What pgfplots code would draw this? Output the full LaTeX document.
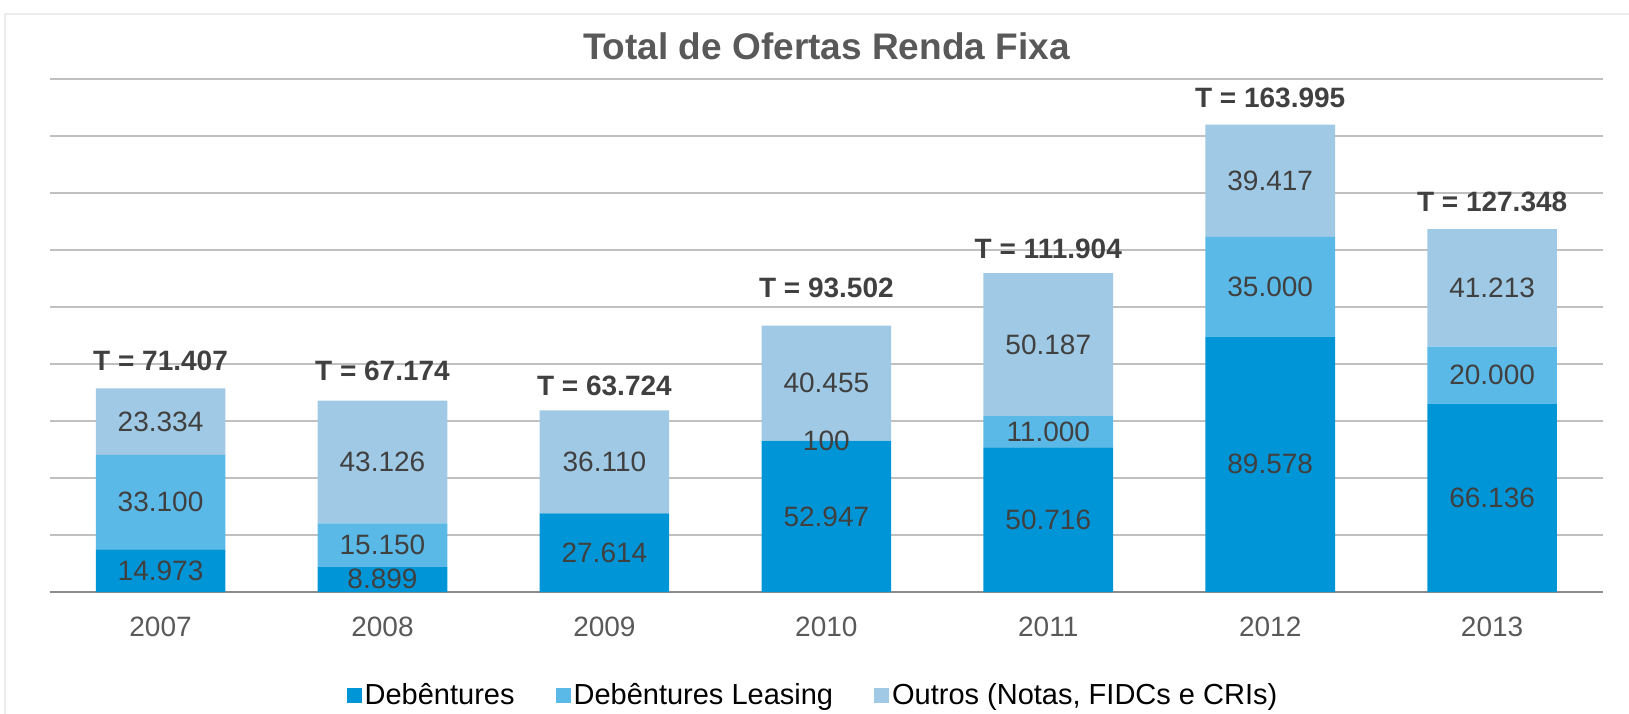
\documentclass[border=0pt]{standalone}
\usepackage{pgfplots}
\pgfplotsset{compat=1.18}
\usepackage{pgfplotstable}
\usepackage{fontspec}
\setmainfont{Liberation Sans}
\definecolor{cdeb}{HTML}{0095D6}
\definecolor{cleas}{HTML}{5BB9E7}
\definecolor{cout}{HTML}{9FC9E4}
\definecolor{gridc}{HTML}{C0C0C0}
\definecolor{axisc}{HTML}{8C8C8C}
\definecolor{labc}{HTML}{404040}
\definecolor{titc}{HTML}{595959}
\definecolor{framec}{HTML}{EDEDED}
\newcommand\lblfont{\fontsize{14}{16}\selectfont}
\newcommand\legfont{\fontsize{14.5}{16}\selectfont}
% values in thousands; labels as printed; off = baseline shift of the total label above the bar (pt)
\pgfplotstableread{
x deb leas out off dl ll ol tl
0 14.973 33.100 23.334 9.0 14.973 33.100 23.334 {T = 71.407}
1 8.899 15.150 43.126 10.0 8.899 15.150 43.126 {T = 67.174}
2 27.614 0 36.110 7.5 27.614 {} 36.110 {T = 63.724}
3 52.947 0.100 40.455 14.2 52.947 100 40.455 {T = 93.502}
4 50.716 11.000 50.187 7.5 50.716 11.000 50.187 {T = 111.904}
5 89.578 35.000 39.417 8.7 89.578 35.000 39.417 {T = 163.995}
6 66.136 20.000 41.213 8.8 66.136 20.000 41.213 {T = 127.348}
}\data
\pgfplotsset{
  commongeom/.style={at={(0pt,0pt)}, anchor=south west,
    scale only axis, width=776.75pt, height=256.5pt,
    xmin=-0.5, xmax=6.5, ymin=0, ymax=180, clip=false},
  lbl/.style={draw=none, mark=none,
    nodes near coords, point meta=explicit symbolic,
    every node near coord/.append style={font=\lblfont, text=labc, anchor=center}},
}
\begin{document}
\begin{tikzpicture}
\useasboundingbox (-24.8pt,-60.5pt) rectangle (789.7pt,296pt);
\draw[framec, line width=1pt] (-22.3pt,-80pt) |- (820pt,289pt);
\begin{axis}[
  commongeom,
  ybar stacked, bar width=0.584,
  axis x line*=bottom, axis y line*=left,
  x axis line style={draw=axisc, line width=1pt, -},
  y axis line style={draw=none},
  ytick={20,40,...,180}, yticklabels={}, ytick style={draw=none},
  ymajorgrids, grid style={gridc, line width=1pt},
  xtick={0,...,6}, xticklabels={2007,2008,2009,2010,2011,2012,2013},
  major x tick style={draw=none},
  xticklabel style={anchor=north, inner sep=0pt, yshift=-12.5pt, font=\lblfont, text=titc},
  extra x ticks={-0.5,0.5,1.5,2.5,3.5,4.5,5.5,6.5},
  extra x tick labels={},
  extra x tick style={grid=none, tick align=outside, major tick length=3.5pt, tick style={draw=axisc, line width=1pt}},
  title={Total de Ofertas Renda Fixa},
  title style={at={(0.5,1)}, anchor=base, yshift=4pt, font=\fontsize{18.5}{20}\selectfont\bfseries, text=titc},
  legend columns=3,
  legend style={at={(0.4917,-0.2008)}, anchor=center, draw=none, fill=none, font=\legfont, text=black,
    nodes={inner sep=1.5pt},
    /tikz/every even column/.append style={column sep=19pt}},
  legend image code/.code={\fill[#1] (0pt,-3.75pt) rectangle (7.5pt,3.75pt);},
]
\addplot[fill=cdeb, draw=none] table[x=x, y=deb]{\data};
\addlegendentry{Debêntures}
\addplot[fill=cleas, draw=none] table[x=x, y=leas]{\data};
\addlegendentry{Debêntures Leasing}
\addplot[fill=cout, draw=none] table[x=x, y=out]{\data};
\addlegendentry{Outros (Notas, FIDCs e CRIs)}
\end{axis}
\begin{axis}[commongeom, hide axis]
\addplot[lbl] table[x=x, y expr=\thisrow{deb}/2, meta=dl]{\data};
\addplot[lbl] table[x=x, y expr=\thisrow{deb}+\thisrow{leas}/2, meta=ll]{\data};
\addplot[lbl] table[x=x, y expr=\thisrow{deb}+\thisrow{leas}+\thisrow{out}/2, meta=ol]{\data};
\addplot[lbl, visualization depends on={\thisrow{off} \as \toff},
  every node near coord/.append style={anchor=base, inner sep=0pt, yshift=\toff pt, font=\lblfont\bfseries}]
  table[x=x, y expr=\thisrow{deb}+\thisrow{leas}+\thisrow{out}, meta=tl]{\data};
\end{axis}
\end{tikzpicture}
\end{document}
